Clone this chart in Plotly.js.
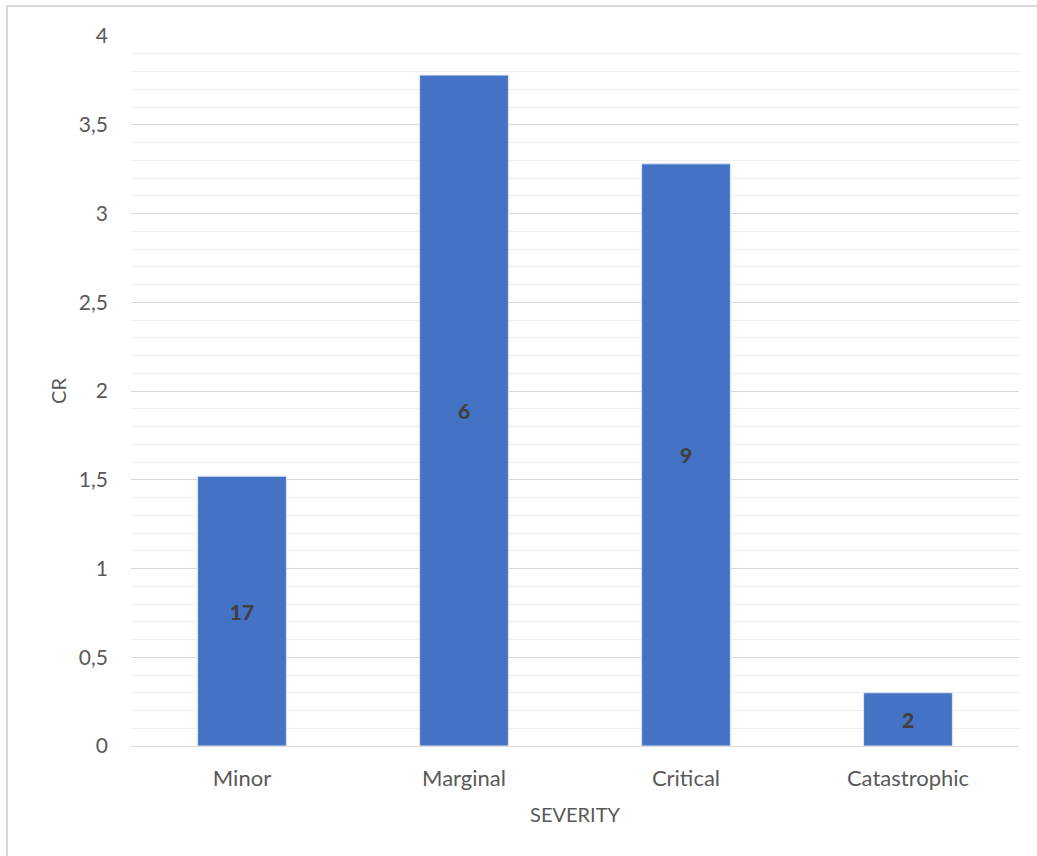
<!DOCTYPE html>
<html>
<head>
<meta charset="utf-8">
<script src="https://cdn.plot.ly/plotly-3.0.1.min.js"></script>
<style>
html,body{margin:0;padding:0;background:#fff;}
#wrap{position:relative;width:1037px;height:856px;}
#border{position:absolute;left:6px;top:5px;width:1100px;height:1000px;border-left:2px solid #d9d9d9;border-top:2px solid #d9d9d9;pointer-events:none;}
#chart{position:absolute;left:0;top:0;width:1037px;height:856px;}
</style>
</head>
<body>
<div id="wrap"><div id="chart"></div><div id="border"></div></div>
<script>
const categories = ["Minor", "Marginal", "Critical", "Catastrophic"];
const crValues = [1.52, 3.78, 3.28, 0.30];
const countLabels = ["17", "6", "9", "2"];
const yTickValues = [0, 0.5, 1, 1.5, 2, 2.5, 3, 3.5, 4];

const FONT = "Lato, 'Open Sans', sans-serif";

const trace = {
  type: "bar",
  x: categories,
  y: crValues,
  text: countLabels,
  textposition: "inside",
  insidetextanchor: "middle",
  textangle: 0,
  constraintext: "none",
  textfont: {family: FONT, size: 21, color: "#404040", weight: 900},
  marker: {color: "#4472C4", line: {color: "#dfe6f3", width: 1}},
  hoverinfo: "none"
};

const layout = {
  width: 1037,
  height: 856,
  margin: {l: 131, r: 18, t: 36, b: 110},
  paper_bgcolor: "#ffffff",
  plot_bgcolor: "#ffffff",
  separators: ", ",
  bargap: 0.6,
  showlegend: false,
  font: {family: FONT, color: "#595959", size: 21},
  xaxis: {
    showgrid: false,
    showline: true,
    linecolor: "#d9d9d9",
    linewidth: 1,
    ticks: "",
    ticklabelstandoff: 13,
    tickfont: {family: FONT, size: 22, color: "#595959"},
    title: {text: "SEVERITY", font: {family: FONT, size: 20, color: "#595959"}, standoff: 17},
    fixedrange: true
  },
  yaxis: {
    range: [0, 4],
    tickvals: yTickValues,
    showgrid: true,
    gridcolor: "#d9d9d9",
    gridwidth: 1,
    zeroline: false,
    showline: false,
    ticks: "",
    ticklabelstandoff: 22,
    tickfont: {family: FONT, size: 21, color: "#595959"},
    minor: {dtick: 0.1, showgrid: true, gridcolor: "#eeeeee", gridwidth: 1},
    title: {text: "CR", font: {family: FONT, size: 20, color: "#595959"}, standoff: 6},
    fixedrange: true
  }
};

Plotly.newPlot("chart", [trace], layout, {displayModeBar: false, staticPlot: true});
</script>
</body>
</html>
